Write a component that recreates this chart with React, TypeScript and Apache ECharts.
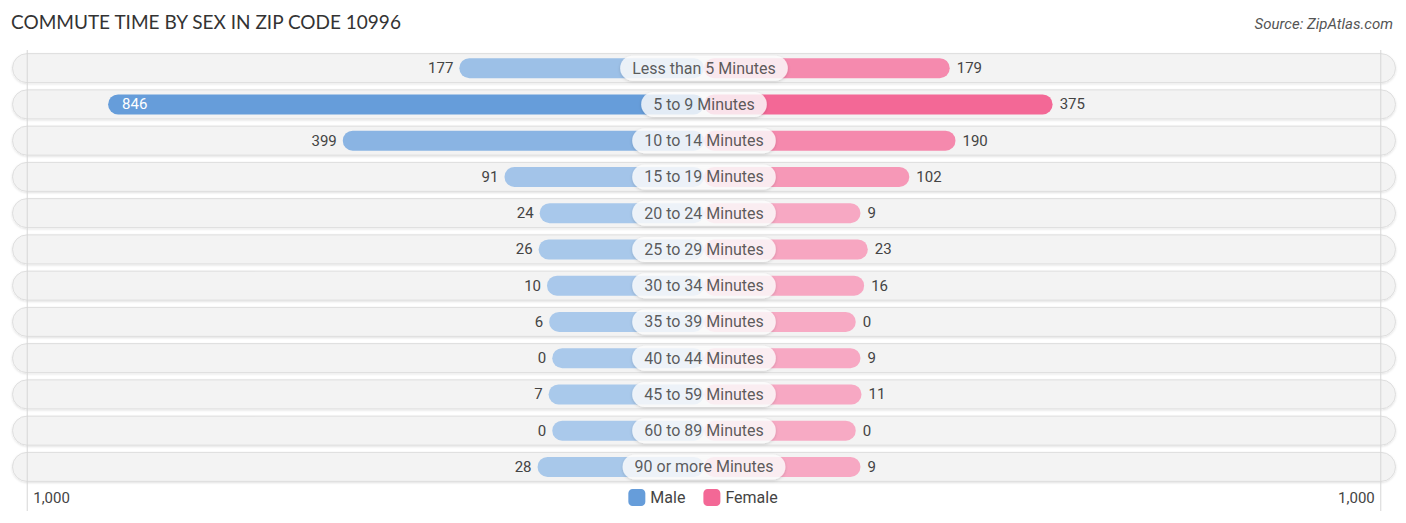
import React, { useEffect, useRef } from "react";
import * as echarts from "echarts";

const categories = [
  "Less than 5 Minutes",
  "5 to 9 Minutes",
  "10 to 14 Minutes",
  "15 to 19 Minutes",
  "20 to 24 Minutes",
  "25 to 29 Minutes",
  "30 to 34 Minutes",
  "35 to 39 Minutes",
  "40 to 44 Minutes",
  "45 to 59 Minutes",
  "60 to 89 Minutes",
  "90 or more Minutes",
];
const maleValues = [177, 846, 399, 91, 24, 26, 10, 6, 0, 7, 0, 28];
const femaleValues = [179, 375, 190, 102, 9, 23, 16, 0, 9, 11, 0, 9];
const tickValues = [-1000, 1000];
const tickLabels = ["1,000", "1,000"];

const OFFSET = 289; // room under the centre label, in value units
const LIMIT = 1318;

const MALE_DARK = [102, 157, 218];
const MALE_LIGHT = [170, 201, 235];
const FEMALE_DARK = [243, 104, 150];
const FEMALE_LIGHT = [247, 170, 196];

function mix(a: number[], b: number[], t: number) {
  const c = a.map((v, i) => Math.round(v + (b[i] - v) * t));
  return `rgb(${c[0]},${c[1]},${c[2]})`;
}

export default function App() {
  const ref = useRef<HTMLDivElement>(null);
  useEffect(() => {
    if (!ref.current) return;
    const chart = echarts.init(ref.current, undefined, { renderer: "svg" });
    const maleMax = Math.max(...maleValues);
    const femaleMax = Math.max(...femaleValues);
    const font = "Roboto, 'Noto Sans', sans-serif";

    chart.setOption({
      animation: false,
      backgroundColor: "#ffffff",
      title: [
        {
          text: "COMMUTE TIME BY SEX IN ZIP CODE 10996",
          left: 11,
          top: 12,
          padding: 0,
          textStyle: { fontSize: 19, fontWeight: "normal", color: "#333", fontFamily: "Lato, 'Noto Sans', sans-serif" },
        },
        {
          text: "Source: ZipAtlas.com",
          right: 13,
          top: 16,
          padding: 0,
          textStyle: { fontSize: 15, fontWeight: "normal", fontStyle: "italic", color: "#555", fontFamily: font },
        },
      ],
      legend: {
        bottom: 12,
        left: "center",
        icon: "roundRect",
        itemWidth: 17,
        itemHeight: 17,
        itemGap: 18,
        textStyle: { fontSize: 16, color: "#444", fontFamily: font },
        data: ["Male", "Female"],
      },
      grid: [
        { left: 12, right: 10, top: 50, bottom: 38 },
        { left: 12, right: 10, top: 50, bottom: 38 },
      ],
      xAxis: [
        {
          type: "value",
          gridIndex: 0,
          min: -LIMIT,
          max: LIMIT,
          show: false,
        },
        { type: "value", gridIndex: 1, min: 0, max: 1, show: false },
      ],
      yAxis: [
        { type: "category", gridIndex: 0, data: categories, inverse: true, show: false },
        { type: "category", gridIndex: 1, data: categories, inverse: true, show: false },
      ],
      series: [
        {
          type: "bar",
          name: "bg",
          xAxisIndex: 1,
          yAxisIndex: 1,
          data: categories.map(() => 1),
          barWidth: 30,
          silent: true,
          z: 0,
          itemStyle: {
            color: "#f3f3f3",
            borderRadius: 15,
            borderColor: "#dedede",
            borderWidth: 1,
            shadowColor: "rgba(0,0,0,0.12)",
            shadowBlur: 2,
            shadowOffsetY: 1,
          },
        },
        {
          type: "bar",
          name: "Male",
          stack: "t",
          barWidth: 20,
          z: 2,
          itemStyle: { color: mix(MALE_LIGHT, MALE_DARK, 1), borderRadius: 10 },
          data: maleValues.map((v) => {
            const big = v / maleMax > 0.7;
            return {
              value: -(OFFSET + v),
              itemStyle: { color: mix(MALE_LIGHT, MALE_DARK, v / maleMax) },
              label: big
                ? { position: "insideLeft", color: "#fff", distance: 14 }
                : { position: "left", color: "#444", distance: 6 },
            };
          }),
          label: {
            show: true,
            fontSize: 15,
            fontFamily: font,
            formatter: (p: any) => String(maleValues[p.dataIndex]),
          },
        },
        {
          type: "bar",
          name: "Female",
          stack: "t",
          barWidth: 20,
          z: 2,
          itemStyle: { color: mix(FEMALE_LIGHT, FEMALE_DARK, 1), borderRadius: 10 },
          data: femaleValues.map((v) => ({
            value: OFFSET + v,
            itemStyle: { color: mix(FEMALE_LIGHT, FEMALE_DARK, v / femaleMax) },
          })),
          label: {
            show: true,
            position: "right",
            distance: 7,
            fontSize: 15,
            color: "#444",
            fontFamily: font,
            formatter: (p: any) => String(femaleValues[p.dataIndex]),
          },
        },
        {
          type: "scatter",
          name: "labels",
          symbolSize: 0,
          z: 5,
          silent: true,
          data: categories.map((c) => [0, c]),
          label: {
            show: true,
            position: "inside",
            formatter: (p: any) => categories[p.dataIndex],
            fontSize: 16,
            color: "#333",
            fontFamily: font,
            backgroundColor: "#ffffff",
            borderRadius: 13,
            padding: [4, 12, 4, 12],
            lineHeight: 17,
            shadowColor: "rgba(0,0,0,0.2)",
            shadowBlur: 3,
            shadowOffsetY: 1,
          },
        },
      ],
    });

    const yTop = 50;
    const yBot = 523 - 12;
    const graphics: any[] = [];
    tickValues.forEach((v, i) => {
      const shifted = v < 0 ? v - OFFSET : v + OFFSET;
      const px = chart.convertToPixel({ xAxisIndex: 0 }, shifted) as number;
      graphics.push({
        type: "line",
        silent: true,
        z: 1,
        shape: { x1: px, y1: yTop, x2: px, y2: yBot },
        style: { stroke: "#d6d6d6", lineWidth: 1 },
      });
      graphics.push({
        type: "text",
        silent: true,
        x: v < 0 ? px + 6 : px - 6,
        y: 498,
        style: {
          text: tickLabels[i],
          fontSize: 15,
          fill: "#444",
          fontFamily: font,
          align: v < 0 ? "left" : "right",
          verticalAlign: "middle",
        },
      });
    });
    chart.setOption({ graphic: graphics });

    return () => chart.dispose();
  }, []);

  return (
    <div
      ref={ref}
      style={{ position: "fixed", left: 0, top: 0, width: 1406, height: 523 }}
    />
  );
}
